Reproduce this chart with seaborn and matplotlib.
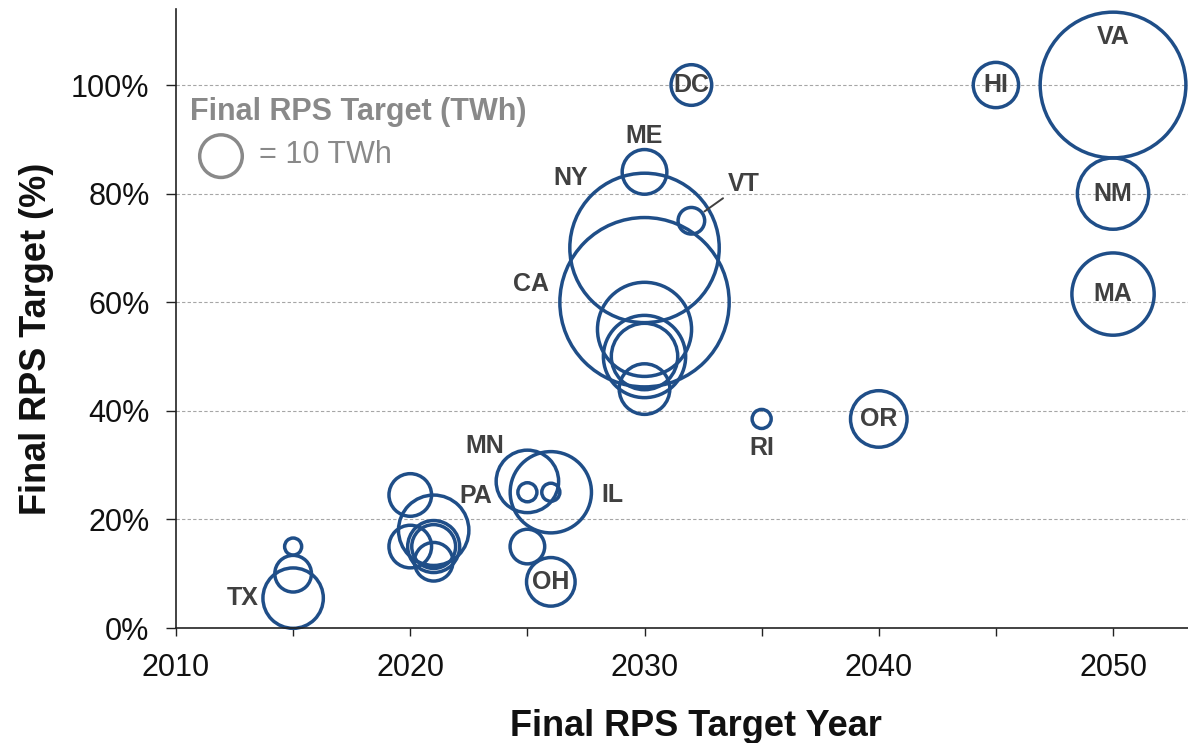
import matplotlib.pyplot as plt
import numpy as np
import pandas as pd
import seaborn as sns
from matplotlib.ticker import PercentFormatter

# final RPS target year, target share (%) and target size (TWh) per circle
target_year = [2015, 2015, 2015, 2020, 2020, 2021, 2021, 2021, 2021,
               2025, 2025, 2025, 2026, 2026, 2026,
               2030, 2030, 2030, 2030, 2030, 2030, 2030,
               2032, 2032, 2035, 2040, 2045, 2050, 2050, 2050]
target_pct = [15, 10, 5.5, 24.5, 15, 18, 15, 15, 12.2,
              27, 25, 15, 25, 25, 8.5,
              84, 70, 60, 55, 50, 50, 44,
              75, 100, 38.5, 38.5, 100, 100, 80, 61.5]
target_twh = [1.6, 7.4, 20.1, 10, 10, 27.3, 14.9, 10.6, 8.2,
              21.5, 2.0, 6.6, 36.4, 1.8, 13,
              11, 123, 158, 48.8, 37.3, 24.3, 14.1,
              3.9, 9.1, 2.0, 17.6, 11.3, 117, 28, 37.3]
state = ['', '', 'TX', '', '', 'PA', '', '', '',
         'MN', '', '', 'IL', '', 'OH',
         'ME', 'NY', 'CA', '', '', '', '',
         'VT', 'DC', 'RI', 'OR', 'HI', 'VA', 'NM', 'MA']

y_ticks = [0, 0.2, 0.4, 0.6, 0.8, 1.0]
x_ticks = [2010, 2015, 2020, 2025, 2030, 2035, 2040, 2045, 2050]
x_labels = ['2010', '', '2020', '', '2030', '', '2040', '', '2050']

# label offsets from circle centre, in pixels (x right, y up)
label_offset = {
    'TX': (-50, 0), 'PA': (42, 34), 'MN': (-43, 35), 'IL': (62, -3),
    'ME': (0, 36), 'NY': (-74, 70), 'VT': (52, 37), 'CA': (-114, 18),
    'RI': (0, -29), 'VA': (0, 48),
}

sns.set_style('ticks')
plt.rcParams['font.family'] = ['Liberation Sans', 'DejaVu Sans']

BLUE = '#1f4e88'
LABEL = '#404040'
GREY = '#898989'
PX = 0.72  # points per pixel at dpi 100
SIZE_PER_TWH = (2 * 21.3 * PX) ** 2 / 10
MAX_TWH = 200

df = pd.DataFrame({'year': target_year,
                   'pct': np.array(target_pct) / 100,
                   'twh': target_twh,
                   'state': state})

fig = plt.figure(figsize=(11.88, 7.43), dpi=100)
ax = fig.add_axes([176 / 1188, 1 - 628 / 743, 1 - 176 / 1188, (628 - 9) / 743])

sns.scatterplot(data=df, x='year', y='pct', size='twh',
                sizes=(0, MAX_TWH * SIZE_PER_TWH), size_norm=(0, MAX_TWH),
                color=BLUE, edgecolor=BLUE, linewidth=2.5, legend=False, ax=ax)
pts = ax.collections[-1]
pts.set_facecolor('none')
pts.set_edgecolor(BLUE)
pts.set_clip_on(False)

for _, row in df[df['state'] != ''].iterrows():
    dx, dy = label_offset.get(row['state'], (0, 0))
    if row['state'] == 'VT':
        ax.annotate(row['state'], xy=(row['year'], row['pct']),
                    xytext=(dx * PX, dy * PX), textcoords='offset points',
                    ha='center', va='center', fontsize=18, fontweight='bold',
                    color=LABEL,
                    arrowprops=dict(arrowstyle='-', color=LABEL, lw=1.4,
                                    shrinkA=1, shrinkB=11.5))
    else:
        ax.annotate(row['state'], xy=(row['year'], row['pct']),
                    xytext=(dx * PX, dy * PX), textcoords='offset points',
                    ha='center', va='center', fontsize=18, fontweight='bold',
                    color=LABEL)

# size key
ax.text(2010.6, 0.95, 'Final RPS Target (TWh)', fontsize=22, fontweight='bold',
        color=GREY, ha='left', va='center')
ax.scatter([2011.92], [0.869], s=10 * SIZE_PER_TWH, facecolor='none',
           edgecolor=GREY, linewidth=2.5)
ax.text(2013.55, 0.871, '= 10 TWh', fontsize=22, color=GREY,
        ha='left', va='center')

ax.set_xlim(2010, 2053.2)
ax.set_ylim(0, 1.14)
ax.set_xticks(x_ticks)
ax.set_xticklabels(x_labels)
ax.set_yticks(y_ticks)
ax.yaxis.set_major_formatter(PercentFormatter(1.0, decimals=0))
ax.tick_params(axis='both', labelsize=22, pad=12, width=1, color='#222222',
               labelcolor='#111111')
ax.tick_params(axis='x', length=6)
ax.tick_params(axis='y', length=7)

ax.yaxis.grid(True, linestyle=(0, (3, 2)), linewidth=0.8, color='#a6a6a6')
ax.set_axisbelow(True)

sns.despine(ax=ax)
for sp in ['left', 'bottom']:
    ax.spines[sp].set_color('#222222')
    ax.spines[sp].set_linewidth(1.2)

ax.set_xlabel('Final RPS Target Year', fontsize=26, fontweight='bold', color='#111111')
ax.set_ylabel('Final RPS Target (%)', fontsize=26, fontweight='bold', color='#111111')
ax.xaxis.set_label_coords(0.514, -0.131)
ax.yaxis.set_label_coords(-0.121, 0.467)

fig.savefig('out.png', dpi=100)
